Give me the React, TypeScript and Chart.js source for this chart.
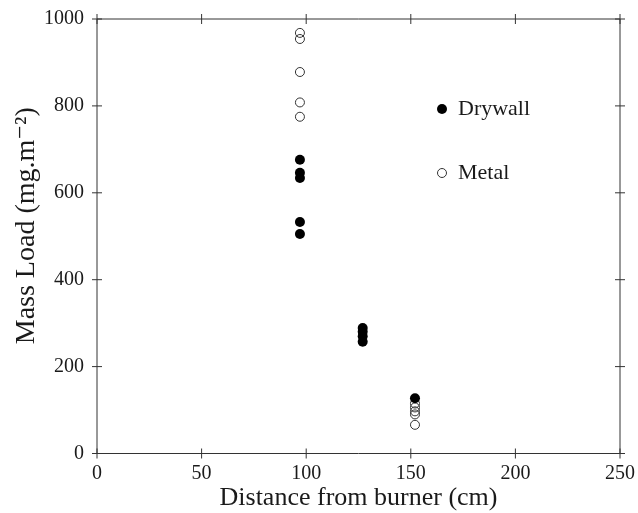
import React, { useEffect, useRef } from "react";
import { Chart, registerables } from "chart.js";

Chart.register(...registerables);

// Data
const drywallX = [97, 97, 97, 97, 97, 127, 127, 127, 127, 152];
const drywallY = [676, 646, 634, 533, 505, 289, 280, 270, 257, 127];
const metalX = [97, 97, 97, 97, 97, 152, 152, 152, 152, 152];
const metalY = [968, 954, 878, 808, 775, 115, 106, 97, 90, 66];

const xTicks = [0, 50, 100, 150, 200, 250];
const yTicks = [0, 200, 400, 600, 800, 1000];
const seriesNames = ["Drywall", "Metal"];
const xTitle = "Distance from burner (cm)";
const yTitle = "\u00A0\u00A0\u00A0Mass Load (mg.m\u207B\u00B2)";

const FONT = "'Liberation Serif', 'DejaVu Serif', serif";

const boxPlugin = {
  id: "boxTicks",
  afterDraw(chart: any) {
    const { ctx, chartArea } = chart;
    const { left, right, top, bottom } = chartArea;
    const xs = chart.scales.x;
    const ys = chart.scales.y;
    ctx.save();
    ctx.strokeStyle = "#333";
    ctx.lineWidth = 1;
    ctx.beginPath();
    ctx.rect(left, top, right - left, bottom - top);
    ctx.stroke();
    const t = 5;
    ctx.beginPath();
    xTicks.forEach((v) => {
      const p = xs.getPixelForValue(v);
      ctx.moveTo(p, bottom - t);
      ctx.lineTo(p, bottom + t);
      ctx.moveTo(p, top - t);
      ctx.lineTo(p, top + t);
    });
    yTicks.forEach((v) => {
      const p = ys.getPixelForValue(v);
      ctx.moveTo(left - t, p);
      ctx.lineTo(left + t, p);
      ctx.moveTo(right - t, p);
      ctx.lineTo(right + t, p);
    });
    ctx.stroke();

    // legend
    ctx.font = `22px ${FONT}`;
    ctx.textBaseline = "middle";
    ctx.textAlign = "left";
    ctx.fillStyle = "#000";
    ctx.beginPath();
    ctx.arc(442, 109, 5, 0, Math.PI * 2);
    ctx.fill();
    ctx.fillStyle = "#1a1a1a";
    ctx.fillText(seriesNames[0], 458, 109);
    ctx.beginPath();
    ctx.strokeStyle = "#333";
    ctx.arc(442, 173, 4.5, 0, Math.PI * 2);
    ctx.stroke();
    ctx.fillText(seriesNames[1], 458, 173);
    ctx.restore();
  },
};

export default function App() {
  const ref = useRef<HTMLCanvasElement>(null);
  useEffect(() => {
    if (!ref.current) return;
    const chart = new Chart(ref.current, {
      type: "scatter",
      data: {
        datasets: [
          {
            label: seriesNames[0],
            data: drywallX.map((x, i) => ({ x, y: drywallY[i] })),
            backgroundColor: "#000",
            borderColor: "#000",
            pointRadius: 5,
            borderWidth: 0,
          },
          {
            label: seriesNames[1],
            data: metalX.map((x, i) => ({ x, y: metalY[i] })),
            backgroundColor: "rgba(0,0,0,0)",
            borderColor: "#333",
            pointRadius: 4.5,
            borderWidth: 1,
          },
        ],
      },
      plugins: [boxPlugin],
      options: {
        animation: false,
        responsive: false,
        maintainAspectRatio: false,
        layout: { padding: { top: 19, right: 18, left: 0, bottom: 0 } },
        plugins: { legend: { display: false }, tooltip: { enabled: false } },
        scales: {
          x: {
            type: "linear",
            min: 0,
            max: 250,
            afterBuildTicks: (s: any) => {
              s.ticks = xTicks.map((v) => ({ value: v }));
            },
            afterFit: (s: any) => {
              s.height = 59.5;
              s.paddingLeft = 0;
              s.paddingRight = 0;
            },
            grid: { display: false, drawTicks: false },
            border: { display: false },
            ticks: {
              color: "#1a1a1a",
              font: { family: FONT, size: 20 },
              padding: 8,
              maxRotation: 0,
              callback: (v: any) => String(v),
            },
            title: {
              display: true,
              text: xTitle,
              color: "#1a1a1a",
              font: { family: FONT, size: 26 },
              padding: { top: 0, bottom: -1 },
            },
          },
          y: {
            type: "linear",
            min: 0,
            max: 1000,
            afterBuildTicks: (s: any) => {
              s.ticks = yTicks.map((v) => ({ value: v }));
            },
            afterFit: (s: any) => {
              s.width = 97;
              s.paddingTop = 0;
              s.paddingBottom = 0;
            },
            grid: { display: false, drawTicks: false },
            border: { display: false },
            ticks: {
              color: "#1a1a1a",
              font: { family: FONT, size: 20 },
              padding: 13,
              callback: (v: any) => String(v),
            },
            title: {
              display: true,
              text: yTitle,
              color: "#1a1a1a",
              font: { family: FONT, size: 28 },
              padding: { top: 10, bottom: 0 },
            },
          },
        },
      },
    });
    return () => chart.destroy();
  }, []);
  return (
    <div style={{ position: "fixed", left: 0, top: 0, width: 638, height: 513, background: "#fff" }}>
      <canvas ref={ref} width={638} height={513} style={{ width: 638, height: 513 }} />
    </div>
  );
}
